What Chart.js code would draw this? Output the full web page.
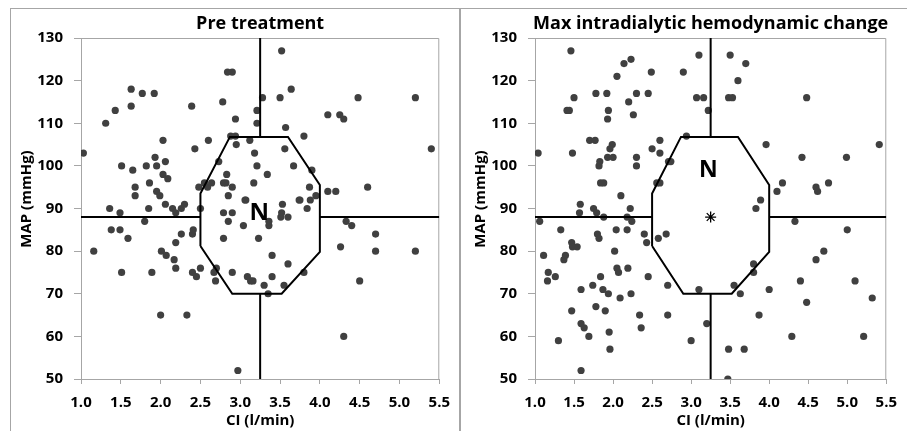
<!DOCTYPE html>
<html>
<head>
<meta charset="utf-8">
<script src="https://cdn.jsdelivr.net/npm/chart.js@4"></script>
<style>
  html, body { margin: 0; padding: 0; background: #ffffff; }
  body { width: 907px; height: 431px; position: relative; overflow: hidden; }
  .frame { position: absolute; border: 1px solid #a6a6a6; box-sizing: border-box; }
  canvas { position: absolute; top: 0; }
</style>
</head>
<body>
<div class="frame" style="left:10px; top:8px; width:450px; height:440px;"></div>
<div class="frame" style="left:460px; top:8px; width:460px; height:440px;"></div>
<canvas id="c1" width="460" height="431" style="left:0px; width:460px; height:431px;"></canvas>
<canvas id="c2" width="453" height="431" style="left:454px; width:453px; height:431px;"></canvas>
<script>
// ---------- data ----------
const panelTitles = ['Pre treatment', 'Max intradialytic hemodynamic change'];
const xAxisTitle = 'CI (l/min)';
const yAxisTitle = 'MAP (mmHg)';
const xTickValues = [1.0, 1.5, 2.0, 2.5, 3.0, 3.5, 4.0, 4.5, 5.0, 5.5];
const yTickValues = [50, 60, 70, 80, 90, 100, 110, 120, 130];

// Pre treatment panel: CI (l/min) and MAP (mmHg)
const preCI = [1.03,1.31,1.43,1.63,1.63,1.77,1.92,2.84,2.90,2.78,2.39,2.94,3.21,3.21,2.03,2.43,2.60,2.88,2.94,2.95,3.12,1.51,1.65,1.82,1.93,1.95,2.06,2.03,2.09,1.86,1.68,1.68,1.95,1.99,2.73,2.83,2.79,2.82,2.90,2.85,3.07,3.18,3.17,3.21,2.48,2.55,2.59,2.64,2.06,2.15,2.26,2.30,1.36,1.85,1.49,2.19,1.80,1.38,1.49,1.59,1.16,2.01,2.07,2.17,2.19,2.26,2.40,2.41,2.19,1.51,1.89,2.40,2.45,2.50,2.50,2.67,2.70,2.69,2.90,3.09,3.13,3.16,2.00,2.33,2.97,2.79,2.90,2.85,3.04,2.79,3.23,3.06,3.53,3.74,3.88,3.52,3.51,3.60,3.36,3.36,3.84,3.40,3.60,3.80,3.40,3.30,3.55,3.35,4.33,4.40,4.70,4.26,4.70,5.20,4.50,4.30,3.52,3.64,3.28,3.50,4.48,5.20,4.10,4.25,4.30,3.57,3.80,5.40,3.56,3.67,3.34,3.90,3.87,3.95,4.10,4.20,4.60,3.75];
const preMAP = [103,110,113,118,114,117,117,122,122,115,114,111,113,110,106,104,106,107,107,105,106,100,99,100,102,100,101,98,97,96,95,93,94,93,101,98,96,96,95,93,92,103,96,100,95,96,95,96,91,90,90,91,90,90,89,89,87,85,85,83,80,80,79,78,82,84,84,85,76,75,75,75,74,76,90,75,76,73,75,74,73,73,65,65,52,89,89,87,86,83,83,92,91,92,92,89,88,88,87,86,90,79,77,75,74,72,72,70,87,86,84,81,80,80,73,60,127,118,116,116,116,116,112,112,111,109,107,104,104,100,98,99,95,93,94,94,95,92];

// Max intradialytic hemodynamic change panel
const maxCI = [1.46,2.14,2.23,2.05,2.49,2.90,3.10,1.78,1.92,2.30,2.45,1.50,3.07,3.16,2.20,1.41,1.44,1.94,1.93,2.26,1.70,1.77,1.99,1.96,2.60,2.50,2.60,1.04,1.48,2.94,1.93,2.00,2.30,1.83,1.82,2.30,2.71,2.74,1.84,1.88,2.56,2.60,2.10,1.58,1.75,2.22,3.50,3.70,3.60,3.48,3.53,3.22,4.48,3.96,5.41,4.42,4.99,4.17,4.10,4.60,4.62,4.76,3.89,3.83,4.33,5.00,4.70,4.60,3.80,3.80,4.40,5.10,3.55,3.63,4.00,3.10,4.48,5.32,3.87,3.20,4.29,5.21,3.48,3.68,3.47,1.57,1.79,1.88,2.18,2.24,1.06,1.33,1.80,1.82,2.04,2.18,2.40,2.43,2.58,2.68,1.47,1.48,1.54,1.11,1.37,1.39,2.02,2.05,2.07,2.19,1.17,1.16,1.26,1.84,2.45,2.70,1.74,1.87,1.94,1.59,2.09,2.23,1.78,1.90,1.47,2.34,2.70,1.59,1.63,2.36,1.69,1.95,1.30,1.96,3.00,1.59];
const maxMAP = [127,124,125,121,122,122,126,117,117,117,117,116,116,116,115,113,113,113,111,112,106,106,105,104,106,104,103,103,103,107,102,102,102,101,100,100,101,101,96,96,96,96,93,91,90,90,126,124,120,116,116,113,116,105,105,102,102,96,94,95,94,96,92,90,87,85,80,78,77,75,73,73,72,70,71,71,68,69,65,63,60,60,57,57,50,89,89,88,88,87,87,85,84,83,85,85,84,82,83,84,82,81,81,79,78,79,80,76,75,76,75,73,74,74,74,72,72,71,70,71,69,70,67,66,66,65,65,63,62,62,60,61,59,57,59,52];

// Normal-range octagon and reference cross (CI, MAP)
const octagonCI  = [2.5, 2.5, 2.87, 3.6, 4.0, 4.0, 3.52, 2.9, 2.5];
const octagonMAP = [81.2, 93.5, 106.8, 106.8, 95.5, 79.8, 70, 70, 81.2];
const crossCI  = [[1.0, 2.5], [4.0, 5.5], [3.25, 3.25], [3.25, 3.25]];
const crossMAP = [[88, 88], [88, 88], [106.8, 130], [50, 70]];
const normalLabel = 'N';
const labelCI  = [3.24, 3.22];
const labelMAP = [89, 99];
const meanCI  = [3.25];
const meanMAP = [88];

// ---------- chart building ----------
const FONT = "'Open Sans', Lato, 'Liberation Sans', sans-serif";
const GRAY = '#a6a6a6';
const DOT = '#404040';

const toPts = (xs, ys) => xs.map((x, i) => ({ x: x, y: ys[i] }));

const decorPlugin = {
  id: 'decor',
  beforeDatasetsDraw(chart) {
    const { ctx, chartArea: a } = chart;
    ctx.save();
    ctx.strokeStyle = GRAY;
    ctx.lineWidth = 1;
    ctx.beginPath();
    ctx.moveTo(a.left, a.top + 0.5);
    ctx.lineTo(a.right - 0.5, a.top + 0.5);
    ctx.lineTo(a.right - 0.5, a.bottom);
    ctx.stroke();
    ctx.restore();
  },
  afterDraw(chart, args, opts) {
    const { ctx, scales, chartArea: a } = chart;
    ctx.save();
    ctx.fillStyle = '#000';
    ctx.textAlign = 'center';
    ctx.textBaseline = 'middle';
    // panel title, centred over the plot area
    ctx.font = 'bold 18px ' + FONT;
    ctx.fillText(opts.title, (a.left + a.right) / 2, 24);
    // y axis title
    ctx.font = 'bold 15px ' + FONT;
    ctx.save();
    ctx.translate(27, 199);
    ctx.rotate(-Math.PI / 2);
    ctx.fillText(opts.yTitle, 0, 0);
    ctx.restore();
    // N label inside the normal-range octagon
    ctx.font = 'bold ' + opts.size + 'px ' + FONT;
    ctx.fillText(opts.text, scales.x.getPixelForValue(opts.x), scales.y.getPixelForValue(opts.y));
    ctx.restore();
  }
};

function makeChart(id, panel, xs, ys, padRight, withMean) {
  const datasets = [
    {
      type: 'scatter',
      data: toPts(xs, ys),
      backgroundColor: DOT,
      borderWidth: 0,
      pointRadius: 3.6,
      order: 3
    },
    {
      type: 'line',
      data: toPts(octagonCI, octagonMAP),
      borderColor: '#000',
      borderWidth: 2,
      pointRadius: 0,
      fill: false,
      tension: 0,
      order: 1
    }
  ];
  crossCI.forEach((seg, i) => {
    datasets.push({
      type: 'line',
      data: toPts(seg, crossMAP[i]),
      borderColor: '#000',
      borderWidth: 2,
      pointRadius: 0,
      fill: false,
      tension: 0,
      order: 1
    });
  });
  if (withMean) {
    datasets.push({
      type: 'scatter',
      data: toPts(meanCI, meanMAP),
      pointStyle: 'star',
      pointRadius: 5.5,
      borderColor: '#000',
      borderWidth: 1.3,
      backgroundColor: '#000',
      order: 0
    });
  }

  return new Chart(document.getElementById(id), {
    data: { datasets: datasets },
    plugins: [decorPlugin],
    options: {
      responsive: false,
      animation: false,
      events: [],
      layout: { padding: { left: 10, right: padRight, top: 38, bottom: 0 } },
      plugins: {
        legend: { display: false },
        tooltip: { enabled: false },
        title: { display: false },
        decor: {
          title: panelTitles[panel],
          yTitle: yAxisTitle,
          text: normalLabel, x: labelCI[panel], y: labelMAP[panel],
          size: panel === 0 ? 24 : 23
        }
      },
      scales: {
        x: {
          type: 'linear',
          min: xTickValues[0],
          max: xTickValues[xTickValues.length - 1],
          afterBuildTicks: (s) => { s.ticks = xTickValues.map(v => ({ value: v })); },
          afterFit: (s) => { s.height = 52; },
          ticks: {
            color: '#000',
            font: { family: FONT, size: 15, weight: 'bold' },
            padding: 10,
            maxRotation: 0,
            autoSkip: false,
            callback: (v) => Number(v).toFixed(1)
          },
          grid: { drawOnChartArea: false, drawTicks: true, tickLength: 5, color: GRAY },
          border: { display: true, color: GRAY, width: 1 },
          title: {
            display: true,
            text: xAxisTitle,
            color: '#000',
            font: { family: FONT, size: 15, weight: 'bold', lineHeight: 1.2 },
            padding: { top: 0, bottom: 1 }
          }
        },
        y: {
          type: 'linear',
          min: yTickValues[0],
          max: yTickValues[yTickValues.length - 1],
          afterBuildTicks: (s) => { s.ticks = yTickValues.map(v => ({ value: v })); },
          afterFit: (s) => { s.width = 71; },
          ticks: {
            color: '#000',
            font: { family: FONT, size: 15, weight: 'bold' },
            padding: 11,
            autoSkip: false
          },
          grid: { drawOnChartArea: false, drawTicks: true, tickLength: 7, color: GRAY },
          border: { display: true, color: GRAY, width: 1 },
          title: { display: false }
        }
      }
    }
  });
}

makeChart('c1', 0, preCI, preMAP, 19, false);
makeChart('c2', 1, maxCI, maxMAP, 12, true);
</script>
</body>
</html>
